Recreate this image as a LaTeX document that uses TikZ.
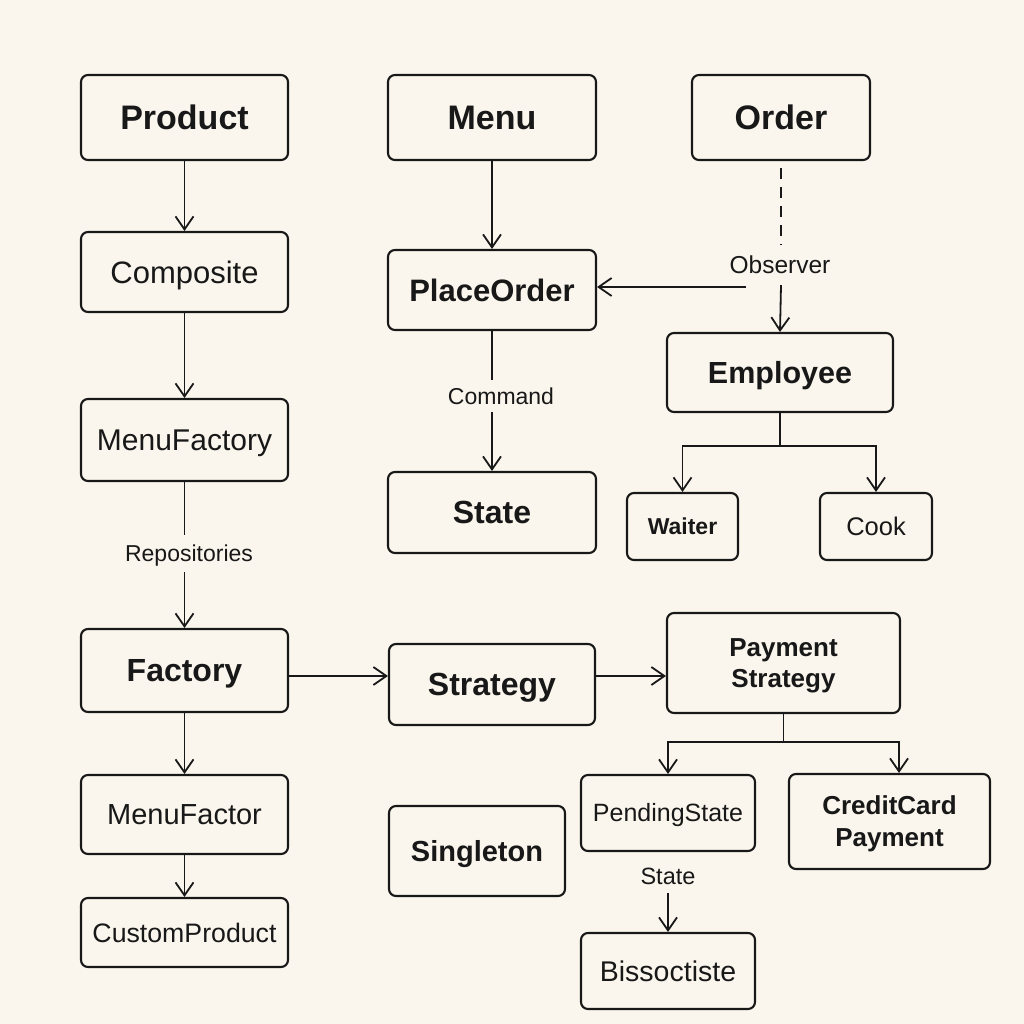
\documentclass[tikz,border=0pt]{standalone}
\usepackage{fontspec}
\setmainfont{Liberation Sans}
\usetikzlibrary{arrows.meta,calc}
\definecolor{bg}{RGB}{250,246,237}
\definecolor{ink}{RGB}{24,24,24}
\tikzset{
  box/.style={draw=ink, line width=2.1pt, rounded corners=7pt, inner sep=0pt, text=ink, text depth=0pt},
  th/.style={text height=#1pt},
  lbl/.style={inner sep=0pt, text=ink, text depth=0pt, minimum width=20pt},
  ln/.style={draw=ink, line width=1.8pt},
  arr/.style={draw=ink, line width=1.8pt, -{Straight Barb[length=13pt,width=18pt,line width=1.8pt]}},
  dsh/.style={draw=ink, line width=1.8pt, dash pattern=on 11pt off 8pt},
}
\newcommand{\fs}[2]{\fontsize{#1}{#2}\selectfont}
\begin{document}
\begin{tikzpicture}[x=1pt,y=-1pt]
\fill[bg] (0,0) rectangle (1024,1024);
\useasboundingbox (0,0) rectangle (1024,1024);

% left column
\node[box,th=24.3,minimum width=207pt,minimum height=85pt,font=\fs{34}{40}\bfseries] (product) at (184.5,117.5) {Product};
\node[box,th=22.2,minimum width=207pt,minimum height=80pt,font=\fs{31}{37}] (composite) at (184.5,272) {Composite};
\node[box,th=21.5,minimum width=207pt,minimum height=82pt,font=\fs{30}{36}] (menufactory) at (184.5,440) {MenuFactory};
\node[box,th=22.9,minimum width=207pt,minimum height=83pt,font=\fs{32}{38}\bfseries] (factory) at (184.5,670.5) {Factory};
\node[box,th=20.8,minimum width=207pt,minimum height=79pt,font=\fs{29}{35}] (menufactor) at (184.5,814.5) {MenuFactor};
\node[box,th=19.1,minimum width=207pt,minimum height=69pt,font=\fs{26.7}{32}] (customproduct) at (184.5,932.5) {CustomProduct};
\node[lbl,th=16.5,minimum height=37pt,font=\fs{23}{28}] (repo) at (189,553.5) {Repositories};

% middle column
\node[box,th=24.3,minimum width=208pt,minimum height=85pt,font=\fs{34}{40}\bfseries] (menu) at (492,117.5) {Menu};
\node[box,th=22.2,minimum width=208pt,minimum height=80pt,font=\fs{31}{37}\bfseries] (placeorder) at (492,290) {PlaceOrder};
\node[lbl,th=16.5,minimum height=32pt,font=\fs{23}{28}] (cmd) at (501,396) {Command};
\node[box,th=22.9,minimum width=208pt,minimum height=81pt,font=\fs{32}{38}\bfseries] (state) at (492,512.5) {State};
\node[box,th=22.9,minimum width=206pt,minimum height=81pt,font=\fs{32}{38}\bfseries] (strategy) at (492,684.5) {Strategy};
\node[box,th=20.8,minimum width=176pt,minimum height=90pt,font=\fs{29}{35}\bfseries] (singleton) at (477,851) {Singleton};

% right column
\node[box,th=24.3,minimum width=178pt,minimum height=85pt,font=\fs{34}{40}\bfseries] (order) at (781,117.5) {Order};
\node[lbl,th=17.5,minimum height=40pt,font=\fs{24.5}{29}] (observer) at (780,265) {Observer};
\node[box,th=21.8,minimum width=226pt,minimum height=79pt,font=\fs{30.5}{36}\bfseries] (employee) at (780,372.5) {Employee};
\node[box,th=16.5,minimum width=111pt,minimum height=67pt,font=\fs{23}{28}\bfseries] (waiter) at (682.5,526.5) {Waiter};
\node[box,th=18.3,minimum width=112pt,minimum height=67pt,font=\fs{25.5}{30}] (cook) at (876,526.5) {Cook};
\node[box,align=center,minimum width=233pt,minimum height=100pt,font=\fs{26}{31.3}\bfseries] (payment) at (783.5,663) {Payment\\Strategy};
\node[box,th=17.9,minimum width=174pt,minimum height=76pt,font=\fs{25}{30}] (pending) at (668,813) {PendingState};
\node[box,align=center,minimum width=201pt,minimum height=95pt,font=\fs{26}{32}\bfseries] (credit) at (889.5,821.5) {CreditCard\\Payment};
\node[lbl,th=16.8,minimum height=34pt,font=\fs{23.5}{28}] (statelbl) at (668,876) {State};
\node[box,th=20.4,minimum width=174pt,minimum height=76pt,font=\fs{28.5}{34}] (bisso) at (668,971) {Bissoctiste};

\coordinate (ej) at (780,446);
\coordinate (pj) at (783.5,742);
\coordinate (obsL) at (746,287);

% connectors
\draw[arr] (product) -- (composite);
\draw[arr] (composite) -- (menufactory);
\draw[ln] (menufactory.south) -- (menufactory.south |- repo.north);
\draw[arr] (menufactory.south |- repo.south) -- (factory.north);
\draw[arr] (factory) -- (menufactor);
\draw[arr] (menufactor) -- (customproduct);

\draw[arr] (menu) -- (placeorder);
\draw[ln] (placeorder.south) -- (placeorder.south |- cmd.north);
\draw[arr] (placeorder.south |- cmd.south) -- (state.north);

\draw[dsh] ([yshift=-7pt]order.south) -- (order.south |- observer.north);
\draw[arr] (order.south |- observer.south) -- (employee.north);
\draw[arr] (obsL) -- (placeorder.east |- obsL);

\draw[ln] (employee.south) -- (ej);
\draw[arr] (ej) -| (waiter.north);
\draw[arr] (ej) -| (cook.north);

\draw[arr] ([yshift=-5.5pt]factory.east) -- ([yshift=8.5pt]strategy.west);
\draw[arr] ([yshift=8.5pt]strategy.east) -- ([yshift=-13pt]payment.west);

\draw[ln] (payment.south) -- (pj);
\draw[arr] (pj) -| (pending.north);
\draw[arr] (pj) -| ([xshift=9.5pt]credit.north);

\draw[arr] (statelbl.south) -- (bisso.north);
\end{tikzpicture}
\end{document}
